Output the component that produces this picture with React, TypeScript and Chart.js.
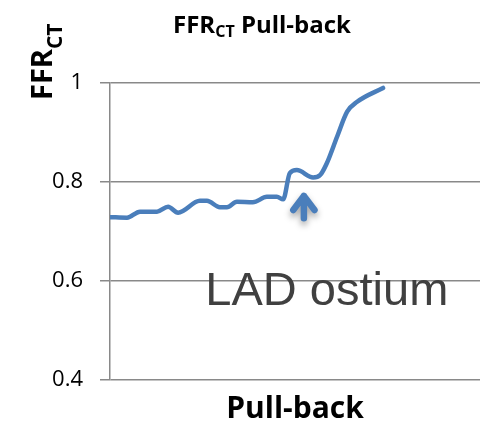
import React, { useEffect, useRef } from "react";
import { Chart, registerables } from "chart.js";

Chart.register(...registerables);

const positions = [0, 4.6, 8.1, 12.7, 15.7, 18.4, 24.3, 26.2, 29.7, 31.6, 34.3, 38.6, 42.4, 45.1, 46.8, 48.6, 50.5, 54.9, 56.8, 58.6, 61.4, 64.1, 66.8, 73.8];
const ffrValues = [0.729, 0.728, 0.74, 0.74, 0.75, 0.738, 0.762, 0.762, 0.749, 0.749, 0.76, 0.759, 0.77, 0.77, 0.765, 0.818, 0.824, 0.809, 0.814, 0.838, 0.892, 0.942, 0.962, 0.99];
const yTicks = [0.4, 0.6, 0.8, 1];
const titleMain = "FFR";
const titleSub = "CT";
const titleRest = " Pull-back";
const xTitle = "Pull-back";
const annotationText = "LAD ostium";
const arrowX = 52.4;
const arrowTip = 0.778;
const arrowBase = 0.727;
const labelX = 58.6;
const labelY = 0.552;

const BLUE = "#4A7EBB";
const GRID = "#898989";
const BOLD = "'Open Sans', Lato, sans-serif";

const textPlugin = {
  id: "textPlugin",
  afterDraw(chart: any) {
    const ctx = chart.ctx as CanvasRenderingContext2D;
    const xs = chart.scales.x;
    const ys = chart.scales.y;
    ctx.save();
    // Title with subscript
    ctx.fillStyle = "#000";
    ctx.textBaseline = "alphabetic";
    const fMain = `bold 24px ${BOLD}`;
    const fSub = `bold 16px ${BOLD}`;
    ctx.font = fMain;
    const w1 = ctx.measureText(titleMain).width;
    const w3 = ctx.measureText(titleRest).width;
    ctx.font = fSub;
    const w2 = ctx.measureText(titleSub).width;
    const total = w1 + w2 + w3;
    let tx = 262 - total / 2;
    const tb = 33;
    ctx.textAlign = "left";
    ctx.font = fMain;
    ctx.fillText(titleMain, tx, tb);
    tx += w1;
    ctx.font = fSub;
    ctx.fillText(titleSub, tx, tb + 4);
    tx += w2;
    ctx.font = fMain;
    ctx.fillText(titleRest, tx, tb);

    // Y axis title (rotated) with subscript
    ctx.save();
    ctx.translate(52, 100);
    ctx.rotate(-Math.PI / 2);
    ctx.font = `bold 29px ${BOLD}`;
    ctx.textAlign = "left";
    const yw = ctx.measureText(titleMain).width;
    ctx.fillText(titleMain, 0, 0);
    ctx.font = `bold 21px ${BOLD}`;
    ctx.fillText(titleSub, yw, 10);
    ctx.restore();

    // X axis title
    ctx.font = `bold 30px ${BOLD}`;
    ctx.textAlign = "center";
    ctx.fillText(xTitle, 295, 418);

    // Annotation text
    ctx.font = `47px 'Liberation Sans', Arial, sans-serif`;
    ctx.fillStyle = "#404040";
    ctx.textAlign = "center";
    ctx.fillText(annotationText, xs.getPixelForValue(labelX), ys.getPixelForValue(labelY));

    // Arrow
    const ax = xs.getPixelForValue(arrowX);
    const ayTip = ys.getPixelForValue(arrowTip);
    const ayBase = ys.getPixelForValue(arrowBase);
    const len = ayBase - ayTip;
    ctx.strokeStyle = BLUE;
    ctx.lineWidth = 6.5;
    ctx.lineCap = "round";
    ctx.lineJoin = "round";
    ctx.shadowColor = "rgba(0,0,0,0.35)";
    ctx.shadowBlur = 6;
    ctx.shadowOffsetY = 4;
    ctx.beginPath();
    ctx.moveTo(ax - len * 0.42, ayTip + len * 0.68);
    ctx.lineTo(ax, ayTip + 3);
    ctx.lineTo(ax + len * 0.42, ayTip + len * 0.68);
    ctx.moveTo(ax, ayTip + 3);
    ctx.lineTo(ax, ayBase);
    ctx.stroke();
    ctx.restore();
  },
};

export default function App() {
  const ref = useRef<HTMLCanvasElement>(null);
  useEffect(() => {
    if (!ref.current) return;
    const chart = new Chart(ref.current, {
      type: "line",
      data: {
        datasets: [
          {
            data: positions.map((p, i) => ({ x: p, y: ffrValues[i] })),
            borderColor: BLUE,
            borderWidth: 4.5,
            pointRadius: 0,
            cubicInterpolationMode: "monotone",
            borderCapStyle: "round",
            fill: false,
          },
        ],
      },
      options: {
        animation: false,
        responsive: true,
        maintainAspectRatio: false,
        layout: { padding: { top: 83, right: 0, bottom: 46, left: 0 } },
        plugins: { legend: { display: false }, tooltip: { enabled: false }, title: { display: false } },
        scales: {
          x: { type: "linear", min: 0, max: 100, display: false },
          y: {
            min: 0.4,
            max: 1,
            afterFit: (s: any) => { s.width = 110; },
            afterBuildTicks: (s: any) => { s.ticks = yTicks.map((v) => ({ value: v })); },
            ticks: {
              padding: 17,
              color: "#000",
              font: { family: "'Open Sans', sans-serif", size: 22 },
              callback: (v: any) => String(Math.round(Number(v) * 10) / 10),
            },
            grid: { color: GRID, lineWidth: 1.5, tickLength: 10 },
            border: { color: GRID, width: 1.5 },
          },
        },
      },
      plugins: [textPlugin],
    });
    return () => chart.destroy();
  }, []);
  return (
    <div style={{ position: "fixed", left: 0, top: 0, width: 480, height: 426 }}>
      <canvas ref={ref} />
    </div>
  );
}
